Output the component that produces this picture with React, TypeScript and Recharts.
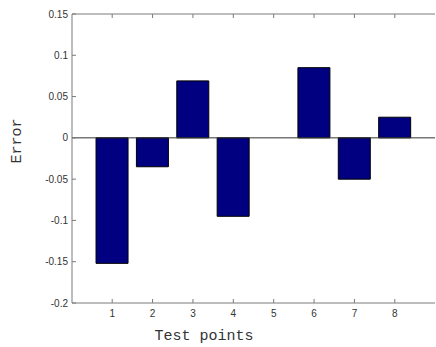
import React from "react";
import { BarChart, Bar, XAxis, YAxis, ReferenceLine } from "recharts";

const points = ["1", "2", "3", "4", "5", "6", "7", "8"];
const errors = [-0.152, -0.035, 0.069, -0.095, 0, 0.085, -0.05, 0.025];
const yTicks = [-0.2, -0.15, -0.1, -0.05, 0, 0.05, 0.1, 0.15];
const yTickLabels = ["-0.2", "-0.15", "-0.1", "-0.05", "0", "0.05", "0.1", "0.15"];

const data = points.map((p, i) => ({ name: p, err: errors[i] }));

const FRAME = "#7a7a7a";
const TEXT = "#333";
const MONO = "'Liberation Mono', 'DejaVu Sans Mono', monospace";

function yLabel(v: number) {
  const i = yTicks.findIndex((t) => Math.abs(t - v) < 1e-9);
  return i >= 0 ? yTickLabels[i] : String(v);
}

const BottomTick = (props: any) => {
  const { x, y, payload } = props;
  return (
    <g>
      <line x1={x} x2={x} y1={y} y2={y - 4} stroke={FRAME} />
      <text x={x} y={y + 14} textAnchor="middle" fontSize={10} fill={TEXT} fontFamily="Arial, 'Liberation Sans', sans-serif">
        {payload.value}
      </text>
    </g>
  );
};

const TopTick = (props: any) => {
  const { x, y } = props;
  return <line x1={x} x2={x} y1={y} y2={y + 4} stroke={FRAME} />;
};

const LeftTick = (props: any) => {
  const { x, y, payload } = props;
  return (
    <g>
      <line x1={x} x2={x + 4} y1={y} y2={y} stroke={FRAME} />
      <text x={x - 4} y={y} dy="0.35em" textAnchor="end" fontSize={10} fill={TEXT} fontFamily="Arial, 'Liberation Sans', sans-serif">
        {yLabel(payload.value)}
      </text>
    </g>
  );
};

const RightTick = (props: any) => {
  const { x, y } = props;
  return <line x1={x} x2={x - 4} y1={y} y2={y} stroke={FRAME} />;
};

export default function App() {
  return (
    <div style={{ position: "absolute", left: 0, top: 0, width: 436, height: 347, background: "#fff" }}>
      <BarChart
        width={436}
        height={347}
        data={data}
        margin={{ top: 13, right: 0, bottom: 43, left: 0 }}
        barCategoryGap="10%"
      >
        <XAxis
          dataKey="name"
          padding={{ left: 20, right: 20 }}
          axisLine={{ stroke: FRAME }}
          tickLine={false}
          tickSize={0}
          tickMargin={0}
          height={1}
          tick={<BottomTick />}
          interval={0}
        />
        <XAxis
          xAxisId="top"
          orientation="top"
          dataKey="name"
          padding={{ left: 20, right: 20 }}
          axisLine={{ stroke: FRAME }}
          tickLine={false}
          tickSize={0}
          tickMargin={0}
          height={1}
          tick={<TopTick />}
          interval={0}
        />
        <YAxis
          type="number"
          domain={[-0.2, 0.15]}
          ticks={yTicks}
          width={72}
          axisLine={{ stroke: FRAME }}
          tickLine={false}
          tickSize={0}
          tickMargin={0}
          tick={<LeftTick />}
          interval={0}
        />
        <YAxis
          yAxisId="right"
          orientation="right"
          type="number"
          domain={[-0.2, 0.15]}
          ticks={yTicks}
          width={1}
          axisLine={false}
          tickLine={false}
          tickSize={0}
          tickMargin={0}
          tick={<RightTick />}
          interval={0}
        />
        <Bar dataKey="err" fill="#000080" stroke="#000" strokeWidth={1} isAnimationActive={false} />
        <ReferenceLine y={0} stroke="#333" />
        <text x={17} y={141} transform="rotate(-90 17 141)" textAnchor="middle" dominantBaseline="central" fontSize={15} fill={TEXT} fontFamily={MONO}>
          Error
        </text>
        <text x={204} y={336} textAnchor="middle" dominantBaseline="central" fontSize={15} fill={TEXT} fontFamily={MONO}>
          Test points
        </text>
      </BarChart>
    </div>
  );
}
